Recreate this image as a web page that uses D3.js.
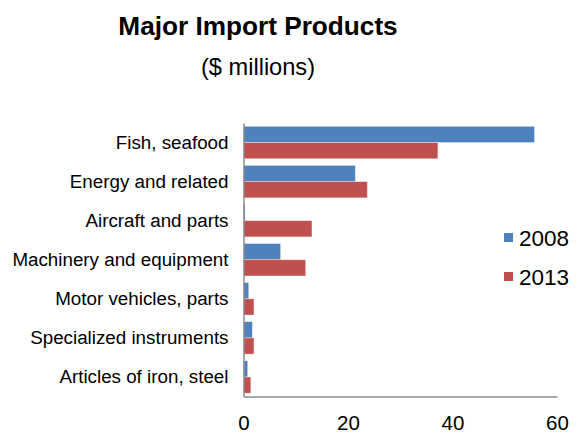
<!DOCTYPE html>
<html>
<head>
<meta charset="utf-8">
<script src="https://cdn.jsdelivr.net/npm/d3@7"></script>
<style>
  body { margin: 0; background: #fff; }
  text { font-family: "Liberation Sans", Arial, sans-serif; fill: #000; }
</style>
</head>
<body>
<svg id="chart" width="579" height="435"></svg>
<script>
// Import categories (top to bottom) and yearly values in $ millions
const categories = [
  "Fish, seafood",
  "Energy and related",
  "Aircraft and parts",
  "Machinery and equipment",
  "Motor vehicles, parts",
  "Specialized instruments",
  "Articles of iron, steel"
];
const years = ["2008", "2013"];
const values2008 = [55.7, 21.4, 0.3, 7.1, 1.0, 1.7, 0.8];
const values2013 = [37.2, 23.7, 13.1, 11.9, 2.0, 2.0, 1.4];
const xTicks = [0, 20, 40, 60];
const colors = ["#4F81BD", "#C0504D"];

const svg = d3.select("#chart");
const font = "'Liberation Sans', Arial, sans-serif";

const x = d3.scaleLinear().domain([0, 60]).range([243.5, 557]);
const y = d3.scaleBand().domain(categories).range([123, 396.5]).paddingInner(0.17).paddingOuter(0.085);
const ySub = d3.scaleBand().domain(years).range([0, y.bandwidth()]);

const series = [values2008, values2013];

// Title and subtitle
svg.append("text").attr("x", 258).attr("y", 35).attr("text-anchor", "middle")
  .style("font-size", "26.2px").style("font-weight", "bold").text("Major Import Products");
svg.append("text").attr("x", 258).attr("y", 74.5).attr("text-anchor", "middle")
  .style("font-size", "23.6px").text("($ millions)");

// Bars
series.forEach((vals, si) => {
  svg.append("g").selectAll("rect").data(categories).join("rect")
    .attr("x", x(0))
    .attr("y", c => y(c) + ySub(years[si]))
    .attr("width", (c, i) => x(vals[i]) - x(0))
    .attr("height", ySub.bandwidth())
    .attr("fill", colors[si])
    .attr("stroke", "#fff").attr("stroke-opacity", 0.45).attr("stroke-width", 0.8);
});

// Category axis
const yAxis = svg.append("g").attr("transform", `translate(${x(0)},0)`)
  .call(d3.axisLeft(y).tickSize(0).tickPadding(15));
yAxis.select(".domain").attr("stroke", "#8c8c8c").attr("stroke-width", 1.5);
yAxis.selectAll("text").style("font-size", "18.8px").style("font-family", font);

// Value axis
const xAxis = svg.append("g").attr("transform", "translate(0,396.5)")
  .call(d3.axisBottom(x).tickValues(xTicks).tickSize(0).tickPadding(18.5));
xAxis.select(".domain").attr("stroke", "#8c8c8c").attr("stroke-width", 1.5);
xAxis.selectAll("text").style("font-size", "20.5px").style("font-family", font);

// Legend
const legend = svg.append("g");
years.forEach((yr, i) => {
  const gy = 237.5 + i * 39;
  legend.append("rect").attr("x", 504).attr("y", gy - 4.5).attr("width", 9).attr("height", 9).attr("fill", colors[i]);
  legend.append("text").attr("x", 519).attr("y", gy + 8.5).style("font-size", "22.5px").text(yr);
});
</script>
</body>
</html>
